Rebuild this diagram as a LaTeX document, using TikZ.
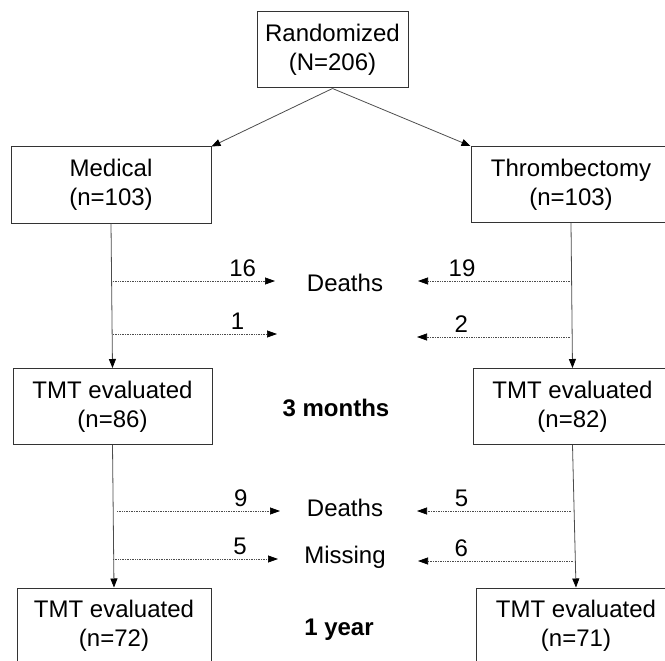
\documentclass[tikz,border=0pt]{standalone}
\usepackage{fontspec}
\setmainfont{Liberation Sans}
\usetikzlibrary{arrows.meta,positioning}

\begin{document}
\begin{tikzpicture}[x=1pt,y=-1pt]
\tikzstyle{box}=[rectangle,draw=black!80,line width=1pt,minimum width=199pt,minimum height=76pt,align=center,inner sep=0pt,font=\fontsize{24}{29}\selectfont]
\tikzstyle{txt}=[font=\fontsize{24}{29}\selectfont]
\tikzstyle{num}=[font=\fontsize{24}{29}\selectfont,inner sep=0pt,above=4pt]
\tikzstyle{flow}=[draw=black!70,line width=0.8pt,-{Triangle[length=9pt,width=7pt,color=black]}]
\tikzstyle{loss}=[draw=black!70,line width=0.7pt,densely dotted,-{Triangle[length=10pt,width=7pt,color=black]}]
\clip (0,0) rectangle (665,661);
% boxes
\node[box,minimum width=151pt] (rand) at (332.5,50) {Randomized\\(N=206)};
\node[box,minimum width=200pt] (med) at (111,185) {Medical\\(n=103)};
\node[box,minimum width=200pt] (thr) at (571,184.5) {Thrombectomy\\(n=103)};
\node[box] (tmtA) at (112.5,406.5) {TMT evaluated\\(n=86)};
\node[box] (tmtB) at (572.5,406.5) {TMT evaluated\\(n=82)};
\node[box,minimum width=194pt] (endA) at (114,626) {TMT evaluated\\(n=72)};
\node[box,minimum width=200pt] (endB) at (576,626) {TMT evaluated\\(n=71)};
% middle texts
\node[txt] (death1) at (345,283) {Deaths};
\node[txt,font=\fontsize{24}{29}\selectfont\bfseries] (m3) at (336,408) {3 months};
\node[txt] (death2) at (345,508) {Deaths};
\node[txt] (miss) at (345,557) {Missing};
\node[txt,font=\fontsize{24}{29}\selectfont\bfseries] (y1) at (339,630) {1 year};
% flow
\draw[flow] (rand.south) -- (med.north east);
\draw[flow] (rand.south) -- (thr.north west);
\draw[flow] (med.south) -- (tmtA.north);
\draw[flow] (thr.south) -- (tmtB.north);
\draw[flow] (tmtA.south) -- (endA.north);
\draw[flow] (tmtB.south) -- (endB.north);
% losses, 3 months
\coordinate (a1) at (113,281);
\coordinate (a1e) at (275,281);
\coordinate (a2) at (113,334);
\coordinate (a2e) at (277,334);
\coordinate (b1) at (570,281);
\coordinate (b1e) at (418,281);
\coordinate (b2) at (570,337);
\coordinate (b2e) at (417,337);
\draw[loss] (a1) -- (a1e) node[num,pos=.8] {16};
\draw[loss] (a2) -- (a2e) node[num,pos=.76] {1};
\draw[loss] (b1) -- (b1e) node[num,pos=.71] {19};
\draw[loss] (b2) -- (b2e) node[num,pos=.71] {2};
% losses, 1 year
\coordinate (c1) at (117,511);
\coordinate (c1e) at (280,511);
\coordinate (c2) at (113,559);
\coordinate (c2e) at (278,559);
\coordinate (d1) at (571,511);
\coordinate (d1e) at (417,511);
\coordinate (d2) at (573,561);
\coordinate (d2e) at (418,561);
\draw[loss] (c1) -- (c1e) node[num,pos=.76] {9};
\draw[loss] (c2) -- (c2e) node[num,pos=.77] {5};
\draw[loss] (d1) -- (d1e) node[num,pos=.71] {5};
\draw[loss] (d2) -- (d2e) node[num,pos=.72] {6};
\end{tikzpicture}
\end{document}
